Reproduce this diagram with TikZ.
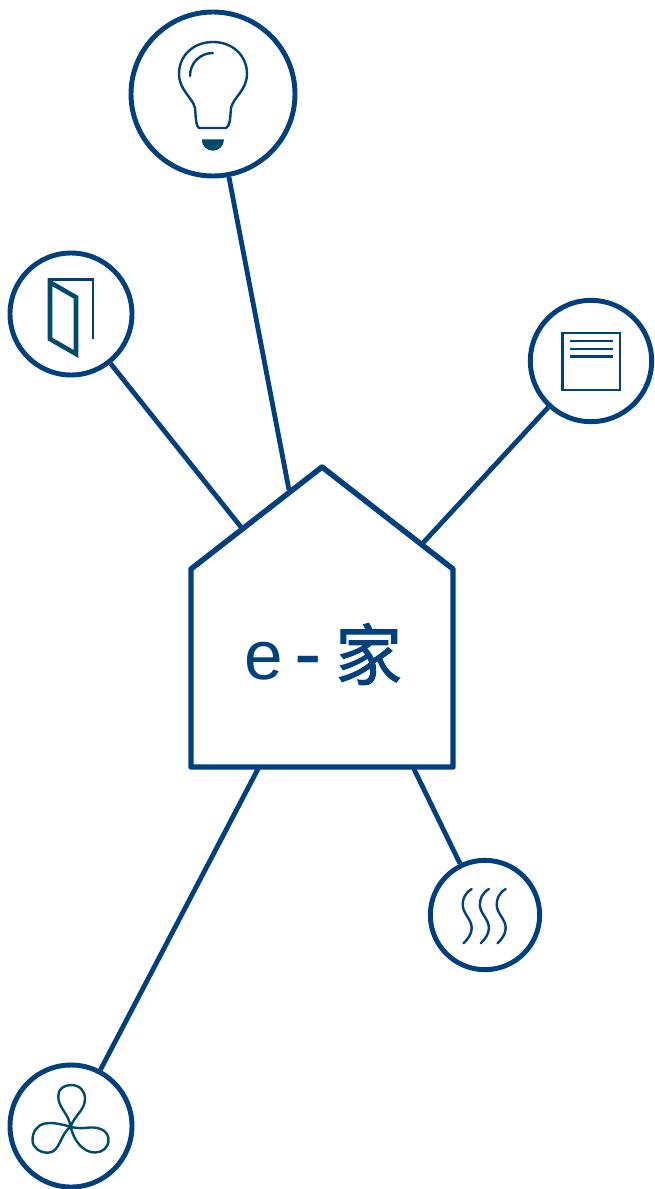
\documentclass[tikz,border=0pt]{standalone}
\usepackage{fontspec}
\setmainfont{Liberation Sans}
\newfontfamily\cjk[FakeBold=1.5]{Noto Sans CJK SC}
\definecolor{homeblue}{HTML}{00407F}
\definecolor{iconteal}{HTML}{004A6B}
\tikzset{
  ring/.style={circle,draw=homeblue,line width=3.7pt,inner sep=0pt,fill=white},
  wire/.style={draw=homeblue,line width=3.6pt},
  iconline/.style={draw=homeblue,line width=1.8pt,line cap=round,line join=round},
  tealline/.style={draw=iconteal,line width=1.8pt,line join=round}
}
\begin{document}
\begin{tikzpicture}[x=.75pt,y=-.75pt]
\useasboundingbox (0,0) rectangle (654,1189);

% Corners of the house, and where the wires meet it
\coordinate (eaveL) at (191,569);
\coordinate (roof) at (322,467);
\coordinate (eaveR) at (453,569);
\coordinate (baseR) at (453,767);
\coordinate (baseL) at (191,767);
\coordinate (jointLamp) at (289,490);
\coordinate (jointDoor) at (241,527);
\coordinate (jointPanel) at (422,544);
\coordinate (jointHeat) at (413,767);
\coordinate (jointFan) at (259,767);

% Circles round the house
\node [ring,minimum size=123pt] (lamp) at (213,94) {};
\node [ring,minimum size=91.5pt] (door) at (71,314) {};
\node [ring,minimum size=91pt] (panel) at (591,361) {};
\node [ring,minimum size=82pt] (heat) at (485,915) {};
\node [ring,minimum size=91.5pt] (fan) at (71,1126) {};

% Wires from the circles to the house
\draw [wire] (lamp)--(jointLamp);
\draw [wire] (door)--(jointDoor);
\draw [wire] (panel)--(jointPanel);
\draw [wire] (heat)--(jointHeat);
\draw [wire] (fan)--(jointFan);

% House
\draw [draw=homeblue,line width=4.1pt,line join=round] (eaveL)--(roof)--(eaveR)--(baseR)--(baseL)--cycle;
\node [text=homeblue,font=\fontsize{52}{52}\selectfont,inner sep=0pt] (title) at (323,654) {e\hspace{-5.5pt} \raisebox{-1.5pt}{\fontsize{62}{62}\selectfont -} \hspace{-4.5pt}{\cjk\fontsize{50}{50}\selectfont 家}};

% Bulb
\draw [iconline] (199,128) .. controls (196,126) and (196,120) .. (195,108)
  .. controls (193,98) and (179,90) .. (179,74)
  .. controls (179,55) and (194,42) .. (213,42)
  .. controls (232,42) and (247,55) .. (247,74)
  .. controls (247,90) and (233,98) .. (231,108)
  .. controls (230,120) and (230,126) .. (226,128)--cycle;
\draw [iconline] (190,76) .. controls (190,63) and (200,53) .. (213,53);
\fill [iconteal] (201.7,139.3)--(224,139.3) .. controls (224,146) and (219,150.7) .. (212.8,150.7) .. controls (207,150.7) and (201.7,146) .. (201.7,139.3)--cycle;

% Door
\draw [iconline,line cap=butt,line join=miter] (47.7,279.3)--(92.7,279.3)--(92.7,339.3);
\draw [tealline,line width=3.4pt,line join=miter] (50,282.3)--(76,297.3)--(76,354)--(50,339)--cycle;

% Panel
\draw [iconline,line cap=butt,line join=miter] (562.3,332.7) rectangle (620,390);
\foreach \y in {341,348.7,356.3}
  \draw [iconline,line cap=butt] (570,\y)--(612.7,\y);

% Heat
\foreach \x in {0,17.2,34}
  \draw [iconline] (471.7+\x,889) .. controls (465+\x,893) and (462.5+\x,899) .. (462.7+\x,905)
    .. controls (463+\x,914) and (471.7+\x,919) .. (471.7+\x,928)
    .. controls (471.7+\x,934) and (468+\x,939) .. (463.5+\x,943.3);

% Fan
\coordinate (hub) at (70.7,1126.7);
\draw [tealline] (hub) .. controls (68,1112) and (58,1108) .. (58.3,1096)
  .. controls (58,1089) and (64,1085) .. (71,1085)
  .. controls (80,1085) and (85,1091) .. (85,1099)
  .. controls (85,1110) and (74,1116) .. (hub)
  .. controls (78,1129) and (84,1128) .. (90,1127.5)
  .. controls (100,1127) and (108.5,1131) .. (108.5,1140)
  .. controls (108.5,1148) and (102,1152.5) .. (95,1152.5)
  .. controls (84,1152.5) and (74,1142) .. (hub)
  .. controls (60,1124) and (52,1122) .. (45,1123.5)
  .. controls (37,1125) and (32.5,1132) .. (32.5,1140)
  .. controls (32.5,1148) and (40,1152.7) .. (48,1152.7)
  .. controls (60,1152.7) and (60,1134) .. (hub);

\end{tikzpicture}
\end{document}
